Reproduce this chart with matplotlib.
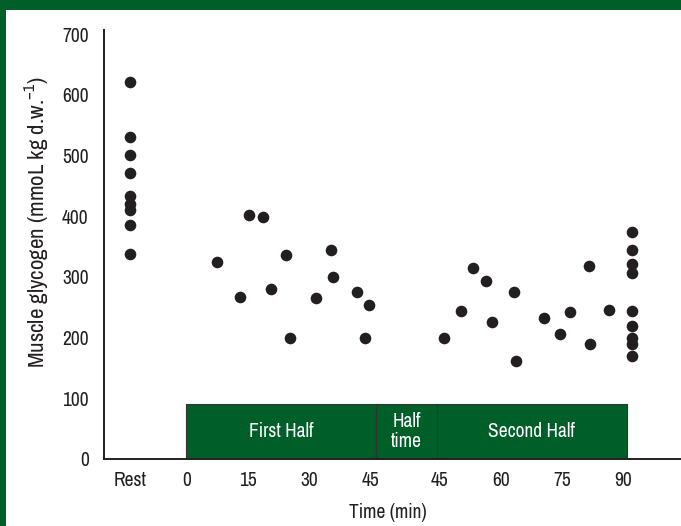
import matplotlib.pyplot as plt
from matplotlib.patches import Rectangle

plt.rcParams['font.family'] = ['Archivo Narrow', 'DejaVu Sans']

GREEN = '#005f28'
INK = '#231f20'

# muscle glycogen samples (mmol/kg d.w.)
rest_vals = [621, 530, 501, 471, 433, 420, 410, 386, 338]

first_min = [7.3, 13.0, 15.3, 18.7, 20.6, 24.4, 25.4, 31.6, 35.3, 35.7, 41.7, 43.6, 44.6]
first_vals = [325, 267, 402, 398, 280, 336, 199, 265, 345, 300, 276, 199, 254]

second_min = [46.1, 50.2, 53.2, 56.2, 57.9, 63.1, 63.6, 70.5, 74.4, 76.8, 81.6, 81.8, 86.4]
second_vals = [200, 244, 315, 293, 225, 275, 162, 233, 206, 242, 318, 190, 245]

end_vals = [374, 345, 322, 306, 244, 219, 200, 190, 170]

tick_labels = ['Rest', '0', '15', '30', '45', '45', '60', '75', '90']

# second half is shifted right to leave room for the half-time block
HT_GAP = 17
REST_X = -14
END_MIN = 92.1

fig = plt.figure(figsize=(6.81, 5.26), dpi=100)
ax = fig.add_axes([104 / 681, 1 - 459 / 526, 1 - 104 / 681, 429 / 526])

xs = ([REST_X] * len(rest_vals) + first_min
      + [m + HT_GAP for m in second_min] + [END_MIN + HT_GAP] * len(end_vals))
ys = rest_vals + first_vals + second_vals + end_vals
ax.scatter(xs, ys, s=70, color=INK, zorder=3, linewidths=0)

# match phases along the bottom
box_h = 90.6
phases = [(-0.25, 46.3, 'First Half'), (46.3, 61.3, 'Half\ntime'), (61.3, 107.8, 'Second Half')]
for x0, x1, name in phases:
    ax.add_patch(Rectangle((x0, 0), x1 - x0, box_h, facecolor=GREEN,
                           edgecolor='#333333', linewidth=0.8, zorder=2))
    ax.text((x0 + x1) / 2, box_h / 2, name, color='white', ha='center', va='center',
            fontsize=14, linespacing=1.05, zorder=4)

ax.set_xlim(-20.3, 121.1)
ax.set_ylim(0, 707)
ax.set_xticks([REST_X, 0, 15, 30, 45, 45 + HT_GAP, 60 + HT_GAP, 75 + HT_GAP, 90 + HT_GAP])
ax.set_xticklabels(tick_labels)
ax.set_yticks(range(0, 701, 100))
ax.tick_params(length=0, labelsize=14, colors=INK)
ax.tick_params(axis='y', pad=11)
ax.tick_params(axis='x', pad=9)

for s in ['top', 'right']:
    ax.spines[s].set_visible(False)
for s in ['left', 'bottom']:
    ax.spines[s].set_color(INK)
    ax.spines[s].set_linewidth(1.4)

fig.text(37 / 681, 1 - 222 / 526, r'Muscle glycogen (mmoL kg d.w.$^{\mathregular{-1}}$)',
         rotation=90, ha='center', va='center', fontsize=16.5, color=INK)
fig.text(388 / 681, 1 - 512 / 526, 'Time (min)', ha='center', va='center',
         fontsize=14, color=INK)

# frame strips on the left and top
fig.patches.append(Rectangle((0, 0), 6 / 681, 1, transform=fig.transFigure,
                             facecolor=GREEN, edgecolor='none'))
fig.patches.append(Rectangle((0, 1 - 10 / 526), 1, 10 / 526, transform=fig.transFigure,
                             facecolor=GREEN, edgecolor='none'))

fig.savefig('out.png', dpi=100)
